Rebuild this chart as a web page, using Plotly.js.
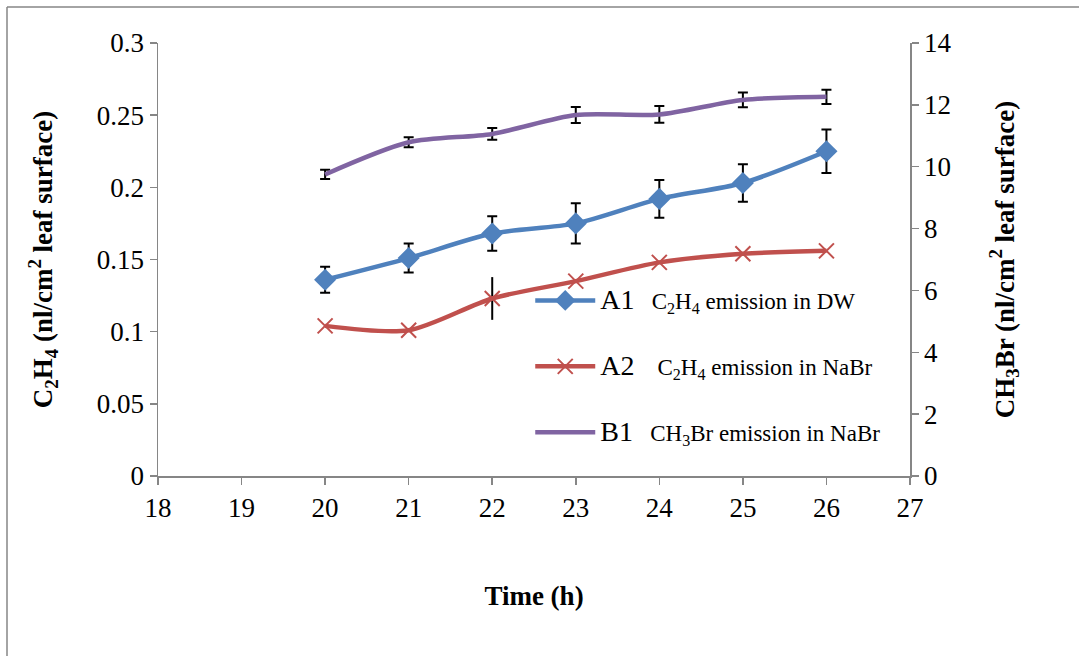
<!DOCTYPE html>
<html>
<head>
<meta charset="utf-8">
<script src="https://cdn.plot.ly/plotly-3.0.1.min.js"></script>
<style>
html,body{margin:0;padding:0;background:#fff;}
#chart{width:1079px;height:656px;}
</style>
</head>
<body>
<div id="chart"></div>
<script>
// Data
const timeH = [20, 21, 22, 23, 24, 25, 26];
const a1C2H4DW = [0.136, 0.151, 0.168, 0.175, 0.192, 0.203, 0.225];
const a1Err = [0.009, 0.010, 0.012, 0.014, 0.013, 0.013, 0.015];
const a2C2H4NaBr = [0.104, 0.101, 0.123, 0.135, 0.148, 0.154, 0.156];
const a2Err = [0, 0, 0.0148, 0, 0, 0, 0];
const b1CH3BrNaBr = [9.75, 10.79, 11.06, 11.67, 11.69, 12.16, 12.26];
const b1Err = [0.15, 0.16, 0.19, 0.26, 0.27, 0.24, 0.23];
const names = [
  '<span style="font-size:28px">A1</span>&nbsp;&nbsp;&nbsp;C<sub>2</sub>H<sub>4</sub> emission in DW',
  '<span style="font-size:28px">A2</span>&nbsp;&nbsp;&nbsp;&nbsp;C<sub>2</sub>H<sub>4</sub> emission in NaBr',
  '<span style="font-size:28px">B1</span>&nbsp;&nbsp;&nbsp;CH<sub>3</sub>Br emission in NaBr'
];

const FONT = '"Liberation Serif", serif';
const AXC = '#868686';

const traces = [
  {
    x: timeH, y: a1C2H4DW, name: names[0], type: 'scatter', mode: 'lines+markers',
    legendgroup: 'g1',
    line: {color: '#4F81BD', width: 4.5, shape: 'spline', smoothing: 0.8},
    marker: {symbol: 'diamond', size: 17, color: '#4F81BD'},
    error_y: {type: 'data', array: a1Err, visible: true, color: '#000', thickness: 2, width: 5}
  },
  {
    x: timeH, y: a2C2H4NaBr, name: names[1], type: 'scatter', mode: 'lines+markers',
    legendgroup: 'g2',
    line: {color: '#C0504D', width: 4.5, shape: 'spline', smoothing: 0.8},
    marker: {symbol: 'x-thin-open', size: 15, color: '#C0504D', line: {color: '#C0504D', width: 2}},
    error_y: {type: 'data', array: a2Err, visible: true, color: '#000', thickness: 2, width: 0}
  },
  {
    x: timeH, y: b1CH3BrNaBr, name: names[2], type: 'scatter', mode: 'lines',
    legendgroup: 'g3', yaxis: 'y2',
    line: {color: '#8064A2', width: 4.5, shape: 'spline', smoothing: 0.8},
    error_y: {type: 'data', array: b1Err, visible: true, color: '#000', thickness: 2, width: 5}
  }
];

const axisCommon = {
  showgrid: false, zeroline: false, showline: true, linecolor: AXC, linewidth: 1.5,
  ticks: 'outside', ticklen: 7, tickcolor: AXC, tickwidth: 1.5,
  tickfont: {family: FONT, size: 27, color: '#000'}
};

const layout = {
  width: 1079, height: 656,
  margin: {l: 158, r: 169, t: 43, b: 180},
  paper_bgcolor: '#fff', plot_bgcolor: '#fff',
  font: {family: FONT, color: '#000'},
  showlegend: true,
  legend: {
    x: 0.495, y: 0.455, xanchor: 'left', yanchor: 'top',
    bgcolor: 'rgba(0,0,0,0)', borderwidth: 0,
    font: {family: FONT, size: 23, color: '#000'},
    itemwidth: 60, tracegroupgap: 33, traceorder: 'grouped',
    itemclick: false, itemdoubleclick: false
  },
  xaxis: Object.assign({}, axisCommon, {
    range: [18, 27], dtick: 1, tick0: 18,
    title: {text: '<b>Time (h)</b>', font: {family: FONT, size: 27, color: '#000'}, standoff: 64}
  }),
  yaxis: Object.assign({}, axisCommon, {
    range: [0, 0.3], dtick: 0.05, tick0: 0,
    title: {text: '<b>C<sub>2</sub>H<sub>4</sub> (nl/cm<sup>2</sup> leaf surface)</b>', font: {family: FONT, size: 27, color: '#000'}, standoff: 36}
  }),
  yaxis2: Object.assign({}, axisCommon, {
    range: [0, 14], dtick: 2, tick0: 0, overlaying: 'y', side: 'right',
    title: {text: '<b>CH<sub>3</sub>Br (nl/cm<sup>2</sup> leaf surface)</b>', font: {family: FONT, size: 27, color: '#000'}, standoff: 44}
  }),
  shapes: [
    {type: 'line', xref: 'paper', yref: 'paper', x0: -0.2008, x1: 1.5, y0: 1.0831, y1: 1.0831, line: {color: AXC, width: 1.5}},
    {type: 'line', xref: 'paper', yref: 'paper', x0: -0.2008, x1: -0.2008, y0: 1.0831, y1: -0.6, line: {color: AXC, width: 1.5}}
  ]
};

Plotly.newPlot('chart', traces, layout, {staticPlot: true, displayModeBar: false});
</script>
</body>
</html>
